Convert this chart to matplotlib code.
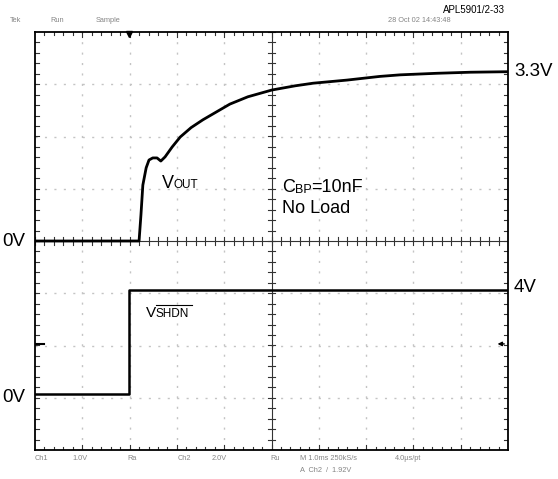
import matplotlib
matplotlib.use("Agg")
import matplotlib.pyplot as plt
import numpy as np

plt.rcParams['font.family'] = ['Liberation Sans', 'DejaVu Sans']

# time in ms (1.0 ms/div), voltages in volts
t_vout = [0.0, 1.0, 2.0, 2.20, 2.24, 2.28, 2.35, 2.41, 2.49, 2.58, 2.66, 2.75,
          2.90, 3.07, 3.30, 3.55, 4.12, 4.5, 5.01, 5.5, 5.88, 6.6, 7.29, 7.72,
          8.5, 9.2, 10.0]
v_vout = [0.0, 0.0, 0.0, 0.0, 0.5, 1.07, 1.40, 1.55, 1.59, 1.59, 1.53, 1.61,
          1.80, 1.99, 2.17, 2.32, 2.62, 2.76, 2.89, 2.97, 3.02, 3.08, 3.15, 3.18,
          3.21, 3.23, 3.24]

t_vshdn = [0.0, 1.99, 1.99, 10.0]
v_vshdn = [0.0, 0.0, 4.0, 4.0]

ch1_vdiv, ch1_zero = 1.0, 0.0     # volts/div, ground position in divs
ch2_vdiv, ch2_zero = 2.0, -2.93

fig = plt.figure(figsize=(5.58, 4.79), dpi=100)
W, H = 558, 479
L, R, T, B = 35, 508, 32, 450
ax = fig.add_axes([L / W, 1 - B / H, (R - L) / W, (B - T) / H])
ax.set_xlim(0, 10)
ax.set_ylim(-4, 4)
ax.set_xticks([])
ax.set_yticks([])
for s in ax.spines.values():
    s.set_linewidth(1.3)

# dotted graticule, one dot every 0.2 div
for gx in range(1, 10):
    if gx != 5:
        ax.axvline(gx, color='#c4c4c4', lw=1.0, ls=(0, (1.5, 6.0)), zorder=1)
for gy in range(-3, 4):
    if gy != 0:
        ax.axhline(gy, color='#c4c4c4', lw=1.0, ls=(0, (1.5, 5.3)), zorder=1)

# center cross with minor ticks
ax.axhline(0, color='#333333', lw=0.8, zorder=2)
ax.axvline(5, color='#333333', lw=0.8, zorder=2)
for m in np.arange(0, 10.01, 0.2):
    ax.plot([m, m], [-0.07, 0.07], color='#333333', lw=0.8, zorder=2)
for m in np.arange(-4, 4.01, 0.2):
    ax.plot([4.92, 5.08], [m, m], color='#333333', lw=0.8, zorder=2)

# edge ticks
for m in np.arange(0.2, 10, 0.2):
    ln = 0.09 if abs(m - round(m)) < 1e-6 else 0.06
    ax.plot([m, m], [4, 4 - ln], color='#333333', lw=0.8, zorder=2)
    ax.plot([m, m], [-4, -4 + ln], color='#333333', lw=0.8, zorder=2)
for m in np.arange(-3.8, 4, 0.2):
    ax.plot([0, 0.08], [m, m], color='#333333', lw=0.8, zorder=2)
    ax.plot([10, 9.92], [m, m], color='#333333', lw=0.8, zorder=2)

# traces
ax.plot(t_vout, np.array(v_vout) / ch1_vdiv + ch1_zero, color='black', lw=2.0,
        solid_joinstyle='round', zorder=3)
ax.plot(t_vshdn, np.array(v_vshdn) / ch2_vdiv + ch2_zero, color='black', lw=1.8,
        zorder=3)

# markers
ax.plot([1.99], [3.97], marker='v', color='black', ms=5, clip_on=False, zorder=4)
ax.plot([0, 0.18], [-1.97, -1.97], color='black', lw=1.5, zorder=4)
ax.annotate('', xy=(9.72, -1.97), xytext=(9.98, -1.97),
            arrowprops=dict(arrowstyle='-|>', color='black', lw=1.0,
                            mutation_scale=6), zorder=4)

# annotations
def ftxt(x, y, s, **kw):
    fig.text(x / W, 1 - y / H, s, **kw)

ftxt(505, 10, 'APL5901/2-33', fontsize=7, ha='right', va='center')
grey = dict(fontsize=5.3, color='#858585', va='center')
ftxt(10, 20, 'Tek', **grey)
ftxt(50, 20, 'Run', **grey)
ftxt(96, 20, 'Sample', **grey)
ftxt(388, 20, '28 Oct 02 14:43:48', **grey)

ftxt(514, 71, '3.3V', fontsize=13.5, va='center')
ftxt(514, 287, '4V', fontsize=13.5, va='center')
ftxt(2, 242, '0V', fontsize=13.5, va='center')
ftxt(2, 397, '0V', fontsize=13.5, va='center')

ftxt(162, 183, 'V', fontsize=13, va='center')
ftxt(173.5, 185, 'OUT', fontsize=8.5, va='center')
ftxt(146, 313, 'V', fontsize=11, va='center')
ftxt(155.5, 314, 'SHDN', fontsize=8.5, va='center')
fig.add_artist(plt.Line2D([156 / W, 192 / W], [1 - 305 / H, 1 - 305 / H],
                          color='black', lw=0.8))

ftxt(282, 188, 'C', fontsize=13, va='center')
ftxt(294.5, 190, 'BP', fontsize=9, va='center')
ftxt(311, 188, '=10nF', fontsize=13, va='center')
ftxt(282, 208, 'No Load', fontsize=13, va='center')

ftxt(35, 458, 'Ch1', **grey)
ftxt(72, 458, '1.0V', **grey)
ftxt(127, 458, 'Ra', **grey)
ftxt(178, 458, 'Ch2', **grey)
ftxt(212, 458, '2.0V', **grey)
ftxt(270, 458, 'Ru', **grey)
ftxt(300, 458, 'M 1.0ms 250kS/s', **grey)
ftxt(395, 458, '4.0\u00b5s/pt', **grey)
ftxt(300, 470, 'A  Ch2  /  1.92V', **grey)

fig.savefig('out.png', dpi=100)
